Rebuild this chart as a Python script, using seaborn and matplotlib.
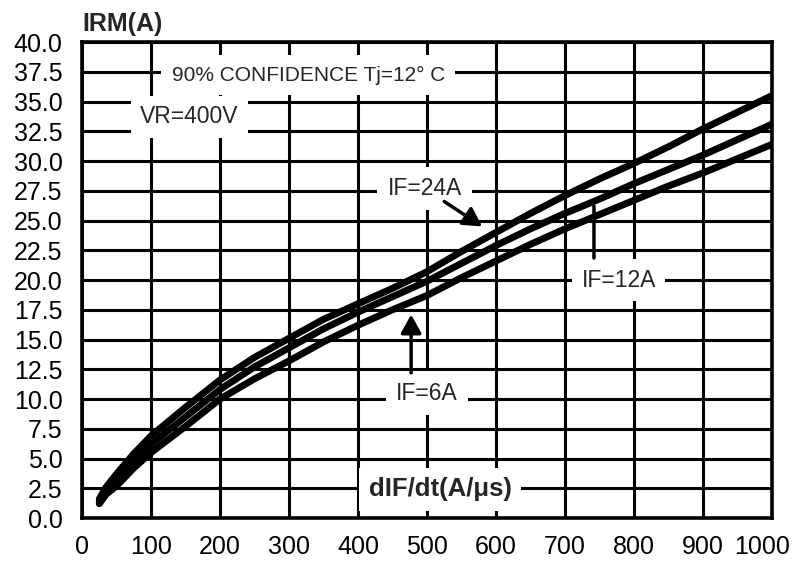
import numpy as np
import pandas as pd
import seaborn as sns
import matplotlib.pyplot as plt
import matplotlib.transforms as mtransforms
from matplotlib.ticker import FormatStrFormatter

# Reverse recovery current vs. dIF/dt for three forward currents
didt = [25, 35, 50, 75, 100, 150, 200, 250, 300, 350, 400, 450, 500,
        550, 600, 650, 700, 750, 800, 850, 900, 950, 1000]
irm_24a = [1.6, 2.6, 3.7, 5.4, 6.9, 9.3, 11.6, 13.5, 15.1, 16.7, 18.0, 19.3, 20.7,
           22.4, 24.0, 25.6, 27.1, 28.5, 29.8, 31.2, 32.7, 34.1, 35.5]
irm_12a = [1.4, 2.3, 3.2, 4.8, 6.2, 8.5, 10.8, 12.7, 14.3, 15.9, 17.3, 18.6, 19.9,
           21.4, 22.9, 24.3, 25.6, 26.8, 28.1, 29.3, 30.5, 31.8, 33.1]
irm_6a = [1.2, 2.0, 2.7, 4.2, 5.5, 7.7, 10.0, 11.7, 13.2, 14.8, 16.2, 17.5, 18.7,
          20.2, 21.6, 23.0, 24.3, 25.5, 26.7, 27.9, 29.0, 30.2, 31.4]

x_ticks = list(range(0, 1001, 100))
y_ticks = list(np.arange(0, 40.01, 2.5))

df = pd.concat([
    pd.DataFrame({"dIF/dt": didt, "IRM": irm_24a, "IF": "IF=24A"}),
    pd.DataFrame({"dIF/dt": didt, "IRM": irm_12a, "IF": "IF=12A"}),
    pd.DataFrame({"dIF/dt": didt, "IRM": irm_6a, "IF": "IF=6A"}),
])

sns.set_style("white")
plt.rcParams["font.family"] = ["Liberation Sans", "DejaVu Sans"]

fig = plt.figure(figsize=(7.97, 5.61), dpi=100)
ax = fig.add_axes([0.1029, 0.0766, 0.8657, 0.8485])

sns.lineplot(data=df, x="dIF/dt", y="IRM", hue="IF",
             palette=["black", "black", "black"], linewidth=5,
             legend=False, ax=ax, solid_capstyle="round",
             solid_joinstyle="round")

ax.set_xlim(0, 1000)
ax.set_ylim(0, 40)
ax.set_xticks(x_ticks)
ax.set_yticks(y_ticks)
ax.yaxis.set_major_formatter(FormatStrFormatter("%.1f"))
ax.grid(True, color="black", linewidth=2.2)
ax.set_axisbelow(True)
for s in ax.spines.values():
    s.set_color("black")
    s.set_linewidth(2.6)
ax.tick_params(length=0, labelsize=18, colors="black")
ax.tick_params(axis="y", pad=14)
ax.tick_params(axis="x", pad=12)
ax.set_xlabel("")
ax.set_ylabel("")

# keep the last x label inside the figure
last = ax.get_xticklabels()[-1]
last.set_transform(last.get_transform() +
                   mtransforms.ScaledTranslation(-10 / 100, 0, fig.dpi_scale_trans))

# Axis titles placed inside / above the grid
ax.text(0.0, 1.038, "IRM(A)", transform=ax.transAxes, ha="left", va="center",
        fontsize=18, fontweight="bold")

def boxed(x, y, s, size, pad, weight="normal"):
    ax.text(x, y, s, ha="center", va="center", fontsize=size, fontweight=weight,
            zorder=4,
            bbox=dict(boxstyle=f"square,pad={pad}", fc="white", ec="none"))

boxed(328, 37.2, "90% CONFIDENCE Tj=12° C", 15, 0.5)
boxed(156, 33.7, "VR=400V", 16.5, 0.4)
boxed(497, 27.7, "IF=24A", 16.5, 0.45)
boxed(778, 20.0, "IF=12A", 16.5, 0.4)
boxed(500, 10.5, "IF=6A", 16.5, 0.45)
boxed(519, 2.4, "dIF/dt(A/μs)", 18.5, 0.38, weight="bold")

arrow = dict(arrowstyle="-|>,head_length=0.45,head_width=0.25",
             color="black", lw=2.5, mutation_scale=25, shrinkA=0, shrinkB=0)
ax.annotate("", xy=(580, 24.5), xytext=(525, 26.6), arrowprops=arrow, zorder=5)
ax.annotate("", xy=(477, 17.1), xytext=(477, 12.2), arrowprops=arrow, zorder=5)
ax.annotate("", xy=(742, 26.2), xytext=(742, 21.85),
            arrowprops=dict(arrowstyle="-", color="black", lw=2.5,
                            shrinkA=0, shrinkB=0), zorder=5)

fig.savefig("out.png", dpi=100)
